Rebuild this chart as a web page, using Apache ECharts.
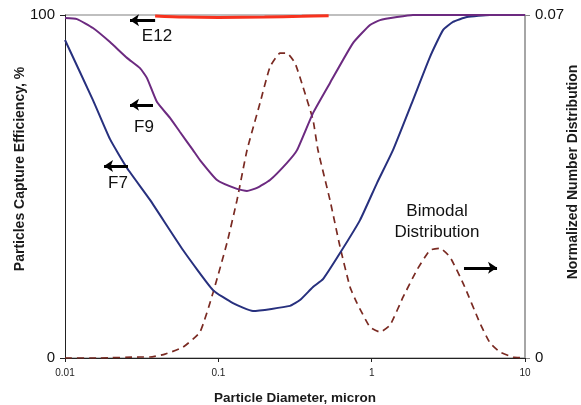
<!DOCTYPE html>
<html>
<head>
<meta charset="utf-8">
<script src="https://cdn.jsdelivr.net/npm/echarts@6/dist/echarts.min.js"></script>
<style>html,body{margin:0;padding:0;background:#fff;}#c{width:581px;height:405px;}</style>
</head>
<body>
<div id="c"></div>
<script>
// x ticks (log axis, micron)
var xTicks = [0.01, 0.1, 1, 10];
// axis titles
var leftTitle = 'Particles Capture Efficiency, %';
var rightTitle = 'Normalized Number Distribution';
// F7 capture efficiency [diameter, %]
var f7 = [[0.01,92.7],[0.01522,75.2],[0.01966,63.8],[0.02537,55.4],[0.03584,46.1],[0.0588,31.5],[0.0923,19.8],[0.1246,16.0],[0.1683,13.7],[0.2934,15.2],[0.3409,16.9],[0.4144,20.7],[0.4815,23.0],[0.6217,30.6],[0.8394,40.2],[1.083,51.0],[1.377,60.6],[1.86,75.2],[2.402,87.8],[2.919,95.6],[3.392,98.0],[4.185,99.4],[5.91,100],[10,100]];
// F9 capture efficiency
var f9 = [[0.01,99.1],[0.01197,98.8],[0.01522,96.2],[0.01966,92.1],[0.02537,87.5],[0.03084,84.5],[0.03426,81.6],[0.03981,74.6],[0.04838,70.0],[0.05623,65.9],[0.06836,60.6],[0.0759,57.7],[0.098,51.9],[0.1323,49.3],[0.1538,48.7],[0.1787,49.6],[0.2173,51.9],[0.2804,56.9],[0.326,60.6],[0.4144,71.4],[0.535,80.2],[0.7554,91.8],[0.9752,97.1],[1.133,98.5],[1.463,99.4],[1.86,100],[10,100]];
// E12 capture efficiency
var e12 = [[0.0387,99.7],[0.06,99.4],[0.1,99.3],[0.2,99.4],[0.35,99.6],[0.524,99.8]];
// Bimodal normalized number distribution (right axis)
var dist = [[0.01,0],[0.0169,0],[0.03084,0.0002],[0.03584,0.0002],[0.0449,0.0008],[0.0588,0.0022],[0.0759,0.0053],[0.0923,0.0133],[0.1139,0.0235],[0.1323,0.0322],[0.1538,0.0424],[0.1869,0.052],[0.2173,0.0594],[0.2525,0.0622],[0.2804,0.0622],[0.3162,0.0602],[0.3567,0.0553],[0.4144,0.0486],[0.4467,0.0424],[0.535,0.0322],[0.6217,0.0227],[0.7223,0.0145],[0.8024,0.0112],[0.9752,0.0063],[1.133,0.0053],[1.317,0.0067],[1.601,0.0124],[1.976,0.018],[2.402,0.022],[2.791,0.0224],[3.243,0.0206],[3.942,0.0153],[5.088,0.0071],[5.91,0.0031],[6.87,0.0012],[8.35,0.0002],[10,0]];
// annotation arrows: [tail, head]
var arrowsLeft = [[[0.0387,98.5],[0.02654,98.5]],[[0.0375,73.8],[0.02654,73.8]],[[0.02576,56.0],[0.01797,56.0]]];
var arrowsRight = [[[4.0,0.0184],[6.57,0.0184]]];
// annotation labels
var labelsLeft = [['E12',0.0398,93.9],['F9',0.03275,67.3],['F7',0.02216,51.0]];
var labelsRight = [['Bimodal\nDistribution',2.668,0.0278]];

var chart = echarts.init(document.getElementById('c'), null, {renderer:'canvas'});
var FONT = 'Liberation Sans, Arial, sans-serif';
function mkArrows(arr){
  return arr.map(function(a){return [{coord:a[0]},{coord:a[1]}];});
}
function mkLabels(arr){
  return arr.map(function(l){return {coord:[l[1],l[2]], value:l[0]};});
}
var option = {
  animation:false,
  textStyle:{fontFamily:FONT},
  grid:{left:65,right:56,top:15,bottom:47,containLabel:false,outerBoundsMode:'none'},
  graphic:[
    {type:'text', x:20, y:169, rotation:Math.PI/2, silent:true,
     style:{text:leftTitle, font:'bold 14px ' + FONT, fill:'#1a1a1a', align:'center', verticalAlign:'middle'}},
    {type:'text', x:573, y:172, rotation:Math.PI/2, silent:true,
     style:{text:rightTitle, font:'bold 14px ' + FONT, fill:'#1a1a1a', align:'center', verticalAlign:'middle'}}
  ],
  xAxis:{
    type:'log', logBase:10, min:xTicks[0], max:xTicks[xTicks.length-1],
    name:'Particle Diameter, micron', nameLocation:'middle', nameGap:33,
    nameTextStyle:{fontFamily:FONT,fontSize:13.5,fontWeight:'bold',color:'#1a1a1a'},
    axisLine:{lineStyle:{color:'#222',width:1}},
    axisTick:{show:true,inside:false,length:4,lineStyle:{color:'#222'}},
    minorTick:{show:false},
    splitLine:{show:false},
    axisLabel:{fontFamily:FONT,fontSize:10,color:'#222',margin:10,
      formatter:function(v){return String(v);}}
  },
  yAxis:[{
    type:'value', min:0, max:100, interval:100, position:'left',
    axisLine:{show:true,lineStyle:{color:'#222',width:1}},
    axisTick:{show:true,length:5,lineStyle:{color:'#222'}},
    splitLine:{show:true,lineStyle:{color:'#aaaaaa',width:1.5}},
    axisLabel:{fontFamily:FONT,fontSize:15,color:'#111',margin:10}
  },{
    type:'value', min:0, max:0.07, interval:0.07, position:'right',
    axisLine:{show:true,lineStyle:{color:'#888',width:1.5}},
    axisTick:{show:true,length:5,lineStyle:{color:'#888'}},
    splitLine:{show:false},
    axisLabel:{fontFamily:FONT,fontSize:15,color:'#111',margin:10,
      formatter:function(v){return v===0?'0':String(v);}}
  }],
  series:[
    {type:'line', name:'Distribution', yAxisIndex:1, data:dist, smooth:0.15, symbol:'none',
     lineStyle:{color:'#7a2a22',width:1.7,type:[7,5]}, z:2},
    {type:'line', name:'F7', data:f7, smooth:0.15, symbol:'none',
     lineStyle:{color:'#27307e',width:2}, z:3},
    {type:'line', name:'F9', data:f9, smooth:0.15, symbol:'none',
     lineStyle:{color:'#6c2a80',width:2}, z:3},
    {type:'line', name:'E12', data:e12, smooth:0.3, symbol:'none',
     lineStyle:{color:'#f8321e',width:3}, z:4},
    {type:'line', name:'annotLeft', data:[], symbol:'none',
     markLine:{silent:true, symbol:['none','arrow'], symbolSize:[9,9],
       lineStyle:{color:'#000',width:3,type:'solid'}, label:{show:false},
       data:mkArrows(arrowsLeft)},
     markPoint:{silent:true, symbol:'circle', symbolSize:0,
       label:{show:true,position:'inside',fontFamily:FONT,fontSize:17,color:'#111',
         formatter:function(p){return p.value;}},
       data:mkLabels(labelsLeft)}},
    {type:'line', name:'annotRight', yAxisIndex:1, data:[], symbol:'none',
     markLine:{silent:true, symbol:['none','arrow'], symbolSize:[9,9],
       lineStyle:{color:'#000',width:3,type:'solid'}, label:{show:false},
       data:mkArrows(arrowsRight)},
     markPoint:{silent:true, symbol:'circle', symbolSize:0,
       label:{show:true,position:'inside',fontFamily:FONT,fontSize:17,color:'#111',lineHeight:21,align:'center',
         formatter:function(p){return p.value;}},
       data:mkLabels(labelsRight)}}
  ]
};
chart.setOption(option);
</script>
</body>
</html>
